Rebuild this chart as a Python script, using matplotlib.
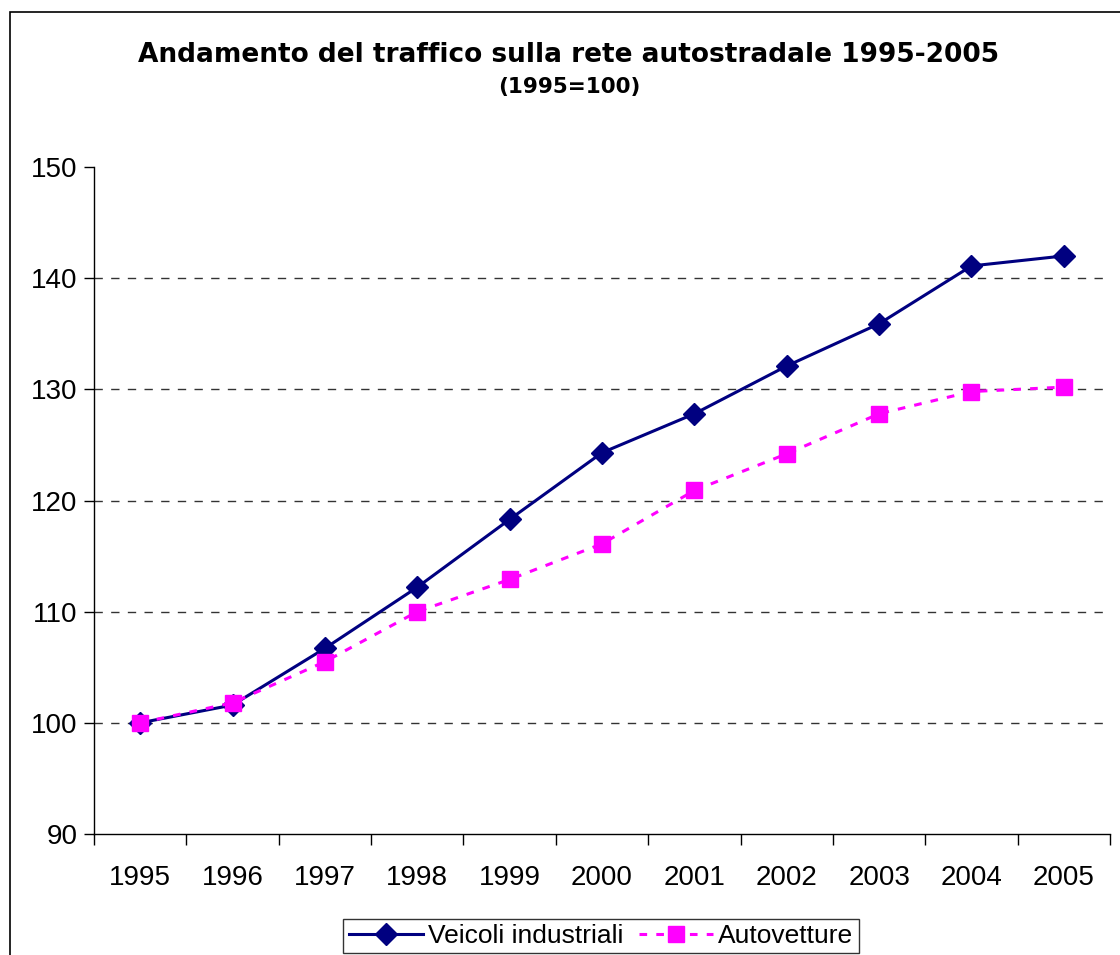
import matplotlib
matplotlib.use('Agg')
import matplotlib.pyplot as plt
from matplotlib.patches import Rectangle

# data (1995=100)
years = ['1995', '1996', '1997', '1998', '1999', '2000',
         '2001', '2002', '2003', '2004', '2005']
veicoli = [100.0, 101.6, 106.7, 112.2, 118.3, 124.3, 127.8, 132.1, 135.9, 141.1, 142.0]
autovetture = [100.0, 101.8, 105.5, 110.0, 112.9, 116.1, 120.9, 124.2, 127.8, 129.8, 130.2]
yticks = [90, 100, 110, 120, 130, 140, 150]

plt.rcParams['font.family'] = ['Liberation Sans', 'DejaVu Sans']

fig = plt.figure(figsize=(11.2, 9.55), dpi=100)
ax = fig.add_axes([94/1120, 1-834/955, (1110-94)/1120, (834-167)/955])

# chart border (cropped on right/bottom like the original)
fig.patches.append(Rectangle((10/1120, -0.1), 1.2, (955-12)/955 + 0.1,
                             transform=fig.transFigure, fill=False,
                             edgecolor='black', linewidth=1.2))

x = list(range(len(years)))
ax.plot(x, veicoli, color='#000080', linewidth=2.2, marker='D', markersize=11,
        label='Veicoli industriali', zorder=3)
ax.plot(x, autovetture, color='#FF00FF', linewidth=2.2, linestyle=(0, (2.5, 3)),
        marker='s', markersize=11.5, label='Autovetture', zorder=4)

ax.set_xlim(-0.5, len(years) - 0.5)
ax.set_ylim(90, 150)
ax.set_yticks(yticks)
ax.tick_params(axis='y', direction='out', length=7, width=1, labelsize=20, pad=5)

# category ticks between labels, labels in the middle
ax.set_xticks([i - 0.5 for i in range(len(years) + 1)])
ax.set_xticklabels([])
ax.set_xticks(x, minor=True)
ax.set_xticklabels(years, minor=True)
ax.tick_params(axis='x', which='major', direction='out', length=8, width=1)
ax.tick_params(axis='x', which='minor', length=0, labelsize=20, pad=22)

for s in ['top', 'right']:
    ax.spines[s].set_visible(False)
ax.spines['left'].set_linewidth(1)
ax.spines['bottom'].set_linewidth(1)

for y in yticks[1:-1]:
    ax.axhline(y, color='#333333', linewidth=1, linestyle=(0, (6, 6)), zorder=1)

fig.text(569/1120, 1-55/955, 'Andamento del traffico sulla rete autostradale 1995-2005',
         ha='center', va='center', fontsize=19, fontweight='bold', family='DejaVu Sans')
fig.text(569/1120, 1-87/955, '(1995=100)', ha='center', va='center',
         fontsize=15.5, fontweight='bold', family='DejaVu Sans')

leg = fig.legend(loc='center', bbox_to_anchor=(601/1120, 1-936/955), ncol=2,
                 frameon=True, fancybox=False, edgecolor='black', fontsize=19,
                 handlelength=2.8, handletextpad=0.2, columnspacing=0.6,
                 borderpad=0.2, borderaxespad=0)
leg.get_frame().set_linewidth(1)

fig.savefig('out.png', dpi=100)
